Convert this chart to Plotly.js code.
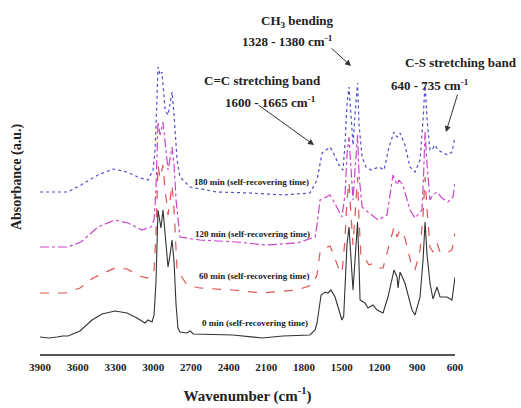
<!DOCTYPE html>
<html>
<head>
<meta charset="utf-8">
<script src="https://cdn.plot.ly/plotly-3.0.1.min.js"></script>
<style>html,body{margin:0;padding:0;background:#fff;}#chart{width:521px;height:408px;}</style>
</head>
<body>
<div id="chart"></div>
<script>
// Wavenumber (cm-1) and absorbance (a.u., stacked)
const wn0 = [3900,3830,3765,3720,3677,3582,3486,3407,3304,3208,3129,3065,3041,3009,2993,2978,2962,2945,2938,2922,2905,2882,2866,2850,2834,2818,2803,2787,2731,2707,2680,2365,2135,1968,1753,1713,1697,1665,1634,1610,1586,1554,1530,1499,1485,1475,1459,1443,1427,1411,1395,1375,1363,1355,1316,1292,1252,1220,1172,1133,1085,1061,1053,1037,998,942,918,878,854,838,822,799,775,743,719,664,624,600];
const abs0 = [17,16,17,18,18,23,34,40,43,41,36,31,34,32,39,71,144,132,126,144,119,87,99,114,92,49,26,22,21,23,20,19,16,18,19,24,31,59,62,61,64,57,47,34,38,69,109,127,94,64,94,132,89,54,51,46,49,44,41,57,84,77,66,82,71,44,39,57,94,132,99,71,55,67,57,57,54,77];

const wn60 = [3900,3700,3582,3478,3304,3208,3105,3049,3009,2993,2978,2962,2945,2922,2905,2882,2850,2834,2818,2810,2731,2630,2365,2135,1856,1737,1697,1673,1634,1594,1570,1530,1499,1475,1459,1443,1427,1411,1395,1375,1363,1347,1308,1284,1244,1204,1172,1133,1085,1061,1037,998,942,918,878,854,838,822,799,775,743,719,664,624,600];
const abs60 = [61,61,66,76,86,85,78,76,78,84,119,189,176,189,164,139,169,144,104,84,69,66,64,61,64,69,79,102,106,108,101,87,81,114,154,172,139,109,139,177,134,96,94,89,91,86,86,104,127,117,124,116,87,84,104,139,177,144,107,102,111,102,101,104,121];

const wn120 = [3900,3680,3574,3439,3304,3200,3089,3017,2993,2978,2962,2945,2922,2905,2882,2850,2834,2818,2795,2787,2630,2335,2104,1856,1713,1697,1673,1594,1570,1499,1475,1459,1443,1427,1411,1395,1375,1363,1339,1292,1212,1141,1093,1061,1045,1014,958,918,862,850,838,822,799,775,743,703,656,616,600];
const abs120 = [107,107,112,127,134,131,124,127,134,164,232,219,232,209,184,207,189,154,122,117,114,112,109,111,117,129,154,159,154,137,159,199,217,184,154,184,219,179,147,142,134,139,179,169,174,169,144,136,144,179,222,189,154,159,162,156,152,157,171];

const wn180 = [3900,3680,3574,3439,3320,3208,3105,3041,3001,2985,2970,2962,2945,2930,2905,2882,2850,2834,2810,2787,2707,2493,2230,1968,1753,1697,1657,1594,1570,1523,1491,1475,1459,1443,1427,1411,1395,1375,1363,1339,1308,1268,1204,1164,1125,1085,1061,1037,998,958,918,878,854,838,822,799,783,759,735,695,656,624,600];
const abs180 = [162,162,169,179,185,182,176,174,184,204,254,287,279,282,244,239,262,239,194,177,167,162,161,159,161,174,201,207,202,189,184,209,249,267,239,209,239,271,229,197,187,184,187,184,207,222,217,221,209,187,182,194,234,271,234,204,204,209,204,201,199,202,217];

const seriesNames = ['0 min (self-recovering time)','60 min (self-recovering time)','120 min (self-recovering time)','180 min (self-recovering time)'];
const tickVals = [3900,3600,3300,3000,2700,2400,2100,1800,1500,1200,900,600];

// layout helpers: pixel position in the 521x408 page -> paper coords
const L = 40, R = 455, T = 0, B = 354;
const px = v => (v - L) / (R - L);
const py = v => (B - v) / (B - T);

const serif = 'Liberation Serif, Times New Roman, serif';

const traces = [
  {x: wn180, y: abs180, name: seriesNames[3], mode: 'lines', line: {color: '#5050c8', width: 1.2, dash: 'dot'}},
  {x: wn120, y: abs120, name: seriesNames[2], mode: 'lines', line: {color: '#cc44cc', width: 1.2, dash: 'dashdot'}},
  {x: wn60, y: abs60, name: seriesNames[1], mode: 'lines', line: {color: '#e05555', width: 1.2, dash: 'dash'}},
  {x: wn0, y: abs0, name: seriesNames[0], mode: 'lines', line: {color: '#333333', width: 1.1}}
];

const fnt = (size) => ({family: serif, size: size, color: '#222'});
const b = s => '<b>' + s + '</b>';

const annotations = [
  {xref: 'paper', yref: 'paper', x: px(251), y: py(182), text: b(seriesNames[3]), showarrow: false, font: fnt(9)},
  {xref: 'paper', yref: 'paper', x: px(252), y: py(234), text: b(seriesNames[2]), showarrow: false, font: fnt(9)},
  {xref: 'paper', yref: 'paper', x: px(254), y: py(283), text: b(seriesNames[1]), showarrow: false, font: fnt(9)},
  {xref: 'paper', yref: 'paper', x: px(255), y: py(330), text: b(seriesNames[0]), showarrow: false, font: fnt(9)},

  {xref: 'paper', yref: 'paper', x: px(262), y: py(71), text: b('C=C stretching band'), showarrow: false, font: fnt(13)},
  {xref: 'paper', yref: 'paper', x: px(270), y: py(92), text: b('1600 - 1665 cm<sup>-1</sup>'), showarrow: false, font: fnt(13)},
  {xref: 'paper', yref: 'paper', x: px(336), y: py(11), text: b('CH<sub>3</sub> bending'), showarrow: false, font: fnt(13)},
  {xref: 'paper', yref: 'paper', x: px(335), y: py(31), text: b('1328 - 1380 cm<sup>-1</sup>'), showarrow: false, font: fnt(13)},
  {xref: 'paper', yref: 'paper', x: px(403), y: py(53), xanchor: 'left', text: b('C-S stretching band'), showarrow: false, font: fnt(13)},
  {xref: 'paper', yref: 'paper', x: px(471), y: py(75), text: b('640 - 735 cm<sup>-1</sup>'), showarrow: false, font: fnt(13)},

  {xref: 'paper', yref: 'paper', x: px(314), y: py(145), ax: -57, ay: -41, text: '', showarrow: true, arrowhead: 2, arrowsize: 1.2, arrowwidth: 1, arrowcolor: '#333'},
  {xref: 'paper', yref: 'paper', x: px(351), y: py(66), ax: -21, ay: -19, text: '', showarrow: true, arrowhead: 2, arrowsize: 1.2, arrowwidth: 1, arrowcolor: '#333'},
  {xref: 'paper', yref: 'paper', x: px(446), y: py(132), ax: 12, ay: -39, text: '', showarrow: true, arrowhead: 2, arrowsize: 1.2, arrowwidth: 1, arrowcolor: '#333'}
];

const layout = {
  width: 521, height: 408,
  margin: {l: L, r: 521 - R, t: T, b: 408 - B, pad: 0},
  paper_bgcolor: '#fff', plot_bgcolor: '#fff',
  showlegend: false,
  xaxis: {
    range: [3900, 600], tickvals: tickVals, ticktext: tickVals.map(v => b(String(v))),
    showline: true, linewidth: 2, linecolor: '#555', showgrid: false, zeroline: false,
    ticks: '', ticklabelstandoff: 2,
    tickfont: {family: serif, size: 11, color: '#222'},
    title: {text: b('Wavenumber (cm<sup>-1</sup>)'), standoff: 18, font: {family: serif, size: 15, color: '#222'}}
  },
  yaxis: {
    range: [0, 354], showline: false, showgrid: false, zeroline: false, showticklabels: false, ticks: '',
    title: {text: b('Absorbance (a.u.)'), standoff: 14, font: {family: serif, size: 14, color: '#222'}}
  },
  annotations: annotations
};

Plotly.newPlot('chart', traces, layout, {displayModeBar: false, staticPlot: true});
</script>
</body>
</html>
